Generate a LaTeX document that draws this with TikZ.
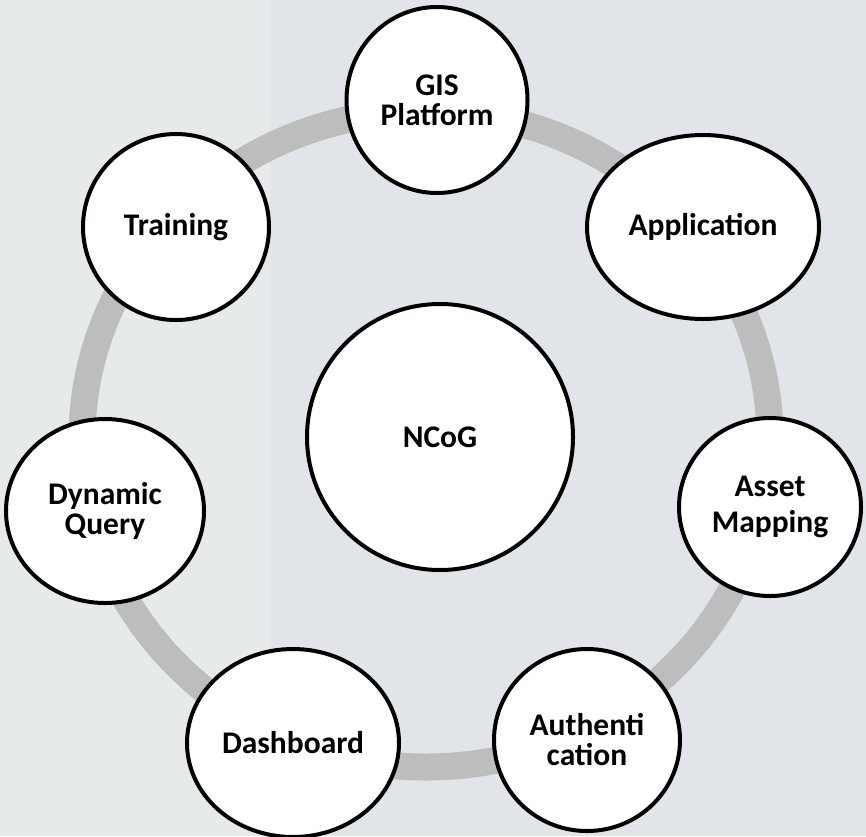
\documentclass[tikz,border=0pt]{standalone}
\usepackage{fontspec}
\setmainfont{Carlito}
\usetikzlibrary{shapes.geometric}
\definecolor{bgleft}{RGB}{231,234,235}
\definecolor{bgright}{RGB}{225,228,232}
\definecolor{ringgray}{RGB}{189,189,189}
\tikzset{
  bubble/.style={ellipse, draw=black, line width=4pt, fill=white, inner sep=0pt,
    align=center, font=\fontsize{31.5}{30}\selectfont\bfseries},
  ringline/.style={draw=ringgray, line width=27pt}
}
\begin{document}
\begin{tikzpicture}[x=1pt,y=-1pt]
\useasboundingbox (0,0) rectangle (866,836);
\fill[bgleft] (0,0) rectangle (270,836);
\fill[bgright] (270,0) rectangle (866,836);
\coordinate (ringc) at (426,439);
\draw[ringline] (ringc) ellipse [x radius=344, y radius=328];
\node[bubble, minimum width=181pt, minimum height=186pt] (gis) at (437,100) {GIS\\Platform};
\node[bubble, minimum width=232pt, minimum height=184pt] (app) at (703,227) {Application};
\node[bubble, minimum width=186pt, minimum height=186pt] (train) at (176,227) {Training};
\node[bubble, minimum width=198pt, minimum height=184pt] (dyn) at (105,511) {Dynamic\\Query};
\node[bubble, minimum width=182pt, minimum height=178pt] (asset) at (770,507) {Asset\\[6pt]Mapping};
\node[bubble, minimum width=212pt, minimum height=188pt] (dash) at (293,743) {Dashboard};
\node[bubble, minimum width=186pt, minimum height=182pt] (auth) at (587,740) {Authenti\\cation};
\node[bubble, circle, minimum size=266pt] (ncog) at (440,437) {NCoG};
\end{tikzpicture}
\end{document}
